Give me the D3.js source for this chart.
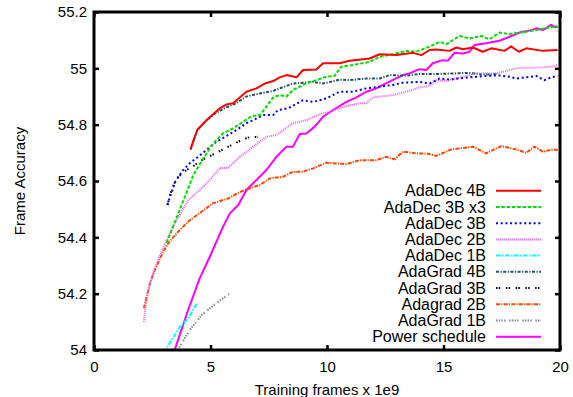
<!DOCTYPE html>
<html>
<head>
<meta charset="utf-8">
<script src="https://cdn.jsdelivr.net/npm/d3@7"></script>
<style>
  html, body { margin: 0; padding: 0; background: #fff; }
  svg { display: block; font-family: "Liberation Sans", Arial, sans-serif; }
</style>
</head>
<body>
<div id="app"></div>
<script>
const WIDTH = 573;
const HEIGHT = 397;

// x: training frames (x 1e9), y: frame accuracy
const adaDec4B = [[4.14,54.712],[4.43,54.781],[4.83,54.816],[5.4,54.858],[5.69,54.872],[5.97,54.876],[6.54,54.917],[6.97,54.929],[7.33,54.946],[7.69,54.955],[7.97,54.968],[8.26,54.976],[8.69,54.968],[8.97,54.994],[9.54,54.996],[9.83,55.018],[10.54,55.018],[10.97,55.027],[11.83,55.035],[12.26,55.05],[12.97,55.047],[13.69,55.055],[14.05,55.047],[14.4,55.065],[14.69,55.067],[15.26,55.062],[15.55,55.074],[15.83,55.068],[16.26,55.074],[16.69,55.059],[17.05,55.071],[17.62,55.062],[17.9,55.078],[18.23,55.059],[18.55,55.071],[19.26,55.062],[19.9,55.065]];
const adaDec3Bx3 = [[3.12,54.38],[3.19,54.396],[3.5,54.46],[3.9,54.544],[4.26,54.621],[4.69,54.68],[5.11,54.733],[5.54,54.769],[5.97,54.787],[6.4,54.81],[6.76,54.83],[7.12,54.834],[7.4,54.864],[7.69,54.897],[7.97,54.905],[8.26,54.9],[8.54,54.923],[9.12,54.947],[9.54,54.958],[9.97,54.97],[10.33,54.973],[10.61,55.006],[11.11,55.012],[11.83,55.023],[12.26,55.041],[12.83,55.05],[13.4,55.062],[13.83,55.059],[14.4,55.077],[14.83,55.094],[15.12,55.086],[15.69,55.115],[16.12,55.106],[16.62,55.115],[16.97,55.103],[17.4,55.127],[17.83,55.122],[18.55,55.13],[19.12,55.138],[19.83,55.15],[19.9,55.145]];
const adaDec3B = [[3.15,54.515],[3.26,54.544],[3.5,54.6],[3.83,54.639],[4.11,54.663],[4.47,54.686],[4.83,54.71],[5.26,54.74],[5.69,54.76],[6.11,54.781],[6.54,54.805],[6.9,54.819],[7.26,54.834],[7.69,54.834],[7.9,54.852],[8.33,54.858],[8.97,54.887],[9.4,54.881],[9.97,54.893],[10.54,54.917],[11.11,54.917],[11.69,54.929],[12.26,54.935],[12.83,54.941],[13.26,54.949],[13.97,54.952],[14.4,54.946],[14.83,54.964],[15.26,54.96],[16.12,54.968],[16.83,54.973],[17.4,54.975],[17.83,54.97],[18.12,54.964],[18.55,54.968],[18.98,54.973],[19.33,54.958],[19.62,54.968],[19.9,54.973]];
const adaDec2B = [[2.14,54.1],[2.23,54.166],[2.4,54.237],[2.61,54.29],[2.83,54.337],[3.12,54.39],[3.54,54.461],[4.04,54.532],[4.54,54.568],[4.83,54.592],[5.4,54.645],[5.76,54.647],[6.26,54.686],[6.83,54.722],[7.4,54.757],[7.83,54.763],[8.33,54.793],[8.54,54.805],[9.12,54.816],[9.69,54.837],[10.12,54.846],[10.83,54.866],[11.4,54.876],[11.69,54.876],[11.97,54.897],[12.83,54.905],[13.4,54.917],[13.97,54.932],[14.4,54.937],[14.69,54.958],[15.12,54.956],[15.83,54.97],[16.4,54.982],[17.26,54.982],[17.83,54.994],[18.26,55.002],[19.12,55.003],[19.69,55.006],[19.9,55.012]];
const adaDec1B = [[3.05,53.99],[3.11,54.006],[3.4,54.045],[3.69,54.083],[4.04,54.112],[4.2,54.135],[4.4,54.163]];
const adaGrad4B = [[4.15,54.712],[4.43,54.781],[4.83,54.816],[5.2,54.84],[5.69,54.862],[6.1,54.876],[6.54,54.9],[7.12,54.911],[7.69,54.92],[7.97,54.929],[8.54,54.946],[9.4,54.952],[9.83,54.946],[10.54,54.96],[10.97,54.958],[11.69,54.964],[12.26,54.964],[12.69,54.976],[13.4,54.974],[13.97,54.98],[14.69,54.98],[15.5,54.982],[16.1,54.984],[16.7,54.978],[17.3,54.98]];
const adaGrad3B = [[3.15,54.515],[3.33,54.568],[3.54,54.609],[3.97,54.639],[4.26,54.653],[4.69,54.677],[5.11,54.694],[5.54,54.712],[5.9,54.728],[6.26,54.742],[6.61,54.754],[7.04,54.757]];
const adaGrad2B = [[2.14,54.148],[2.26,54.189],[2.4,54.237],[2.61,54.284],[2.97,54.349],[3.19,54.379],[3.54,54.414],[4.11,54.461],[4.62,54.491],[5.11,54.521],[5.76,54.538],[6.11,54.554],[6.47,54.568],[7.12,54.586],[7.54,54.609],[8.11,54.615],[8.54,54.633],[8.97,54.633],[9.4,54.645],[9.97,54.665],[10.83,54.66],[11.4,54.674],[12.12,54.674],[12.54,54.686],[12.9,54.677],[13.26,54.704],[13.83,54.698],[14.26,54.698],[14.69,54.689],[15.33,54.712],[16.26,54.722],[16.83,54.698],[17.48,54.724],[18.12,54.712],[18.55,54.7],[18.9,54.722],[19.26,54.704],[19.69,54.712],[19.95,54.71]];
const adaGrad1B = [[3.6,53.99],[3.66,54.01],[4.11,54.071],[4.62,54.124],[4.97,54.148],[5.33,54.171],[5.8,54.199]];
const powerSchedule = [[3.4,53.98],[3.47,54.002],[4.04,54.142],[4.54,54.255],[4.97,54.331],[5.54,54.438],[5.83,54.485],[6.19,54.515],[6.54,54.568],[6.83,54.592],[7.4,54.639],[7.83,54.686],[8.26,54.722],[8.54,54.722],[8.83,54.767],[9.12,54.769],[9.47,54.793],[9.83,54.828],[10.26,54.852],[10.83,54.881],[11.26,54.897],[11.69,54.917],[12.12,54.929],[12.4,54.941],[12.97,54.964],[13.26,54.976],[13.54,54.982],[13.97,54.997],[14.26,54.994],[14.54,55.018],[14.97,55.029],[15.19,55.027],[15.47,55.055],[15.83,55.053],[16.12,55.059],[16.33,55.083],[16.83,55.089],[17.4,55.098],[17.83,55.112],[18.26,55.127],[18.69,55.134],[18.98,55.142],[19.26,55.136],[19.62,55.154],[19.76,55.148],[19.9,55.146]];

const seriesNames = ["AdaDec 4B", "AdaDec 3B x3", "AdaDec 3B", "AdaDec 2B", "AdaDec 1B",
  "AdaGrad 4B", "AdaGrad 3B", "Adagrad 2B", "AdaGrad 1B", "Power schedule"];
const seriesData = [adaDec4B, adaDec3Bx3, adaDec3B, adaDec2B, adaDec1B,
  adaGrad4B, adaGrad3B, adaGrad2B, adaGrad1B, powerSchedule];

const xTicks = [0, 5, 10, 15, 20];
const yTicks = [54, 54.2, 54.4, 54.6, 54.8, 55, 55.2];

// line styles, one per series
const styles = [
  { color: "#ff0000", dash: null, width: 2 },
  { color: "#00e000", dash: "3.5,1.8", width: 2 },
  { color: "#0000ff", dash: "2,2.7", width: 2 },
  { color: "#f060f0", dash: "1,1", width: 2 },
  { color: "#00ffff", dash: "4.5,1.5,1.5,1.5", width: 2 },
  { color: "#1f4f6a", dash: "3,1.5,1.2,1.5", width: 2 },
  { color: "#000000", dash: "1.5,1.3,1.5,5.5", width: 2 },
  { color: "#ff4500", dash: "4,1.2,1.2,1.2", width: 2 },
  { color: "#888888", dash: "1.5,1.2,1.5,1.2,1.5,1.2,1.5,3.5", width: 2 },
  { color: "#ff00ff", dash: null, width: 2 },
];

const margin = { left: 94, right: 13, top: 12, bottom: 47 };
const x = d3.scaleLinear().domain([0, 20]).range([margin.left, WIDTH - margin.right]);
const y = d3.scaleLinear().domain([54, 55.2]).range([HEIGHT - margin.bottom, margin.top]);

const svg = d3.select("#app").append("svg")
  .attr("width", WIDTH)
  .attr("height", HEIGHT);

svg.append("clipPath").attr("id", "plot-clip")
  .append("rect")
  .attr("x", x(0)).attr("y", y(55.2))
  .attr("width", x(20) - x(0)).attr("height", y(54) - y(55.2));

const line = d3.line().x((d) => x(d[0])).y((d) => y(d[1]));

const lines = svg.append("g").attr("clip-path", "url(#plot-clip)");
// draw in reverse so AdaDec 4B ends on top
seriesData.map((d, i) => ({ d, i })).reverse().forEach(({ d, i }) => {
  lines.append("path")
    .datum(d)
    .attr("fill", "none")
    .attr("stroke", styles[i].color)
    .attr("stroke-width", styles[i].width)
    .attr("stroke-dasharray", styles[i].dash)
    .attr("stroke-linejoin", "round")
    .attr("d", line);
});

// axes: inward ticks, mirrored on top and right
const TICK = 5;
function styleAxis(g) {
  g.select(".domain").remove();
  g.selectAll(".tick line").attr("stroke", "#000").attr("stroke-width", 2.5);
  g.selectAll(".tick text").attr("fill", "#000").attr("font-size", 15)
    .attr("font-family", "Liberation Sans, Arial, sans-serif");
}

svg.append("g")
  .attr("transform", `translate(0,${y(54)})`)
  .call(d3.axisBottom(x).tickValues(xTicks).tickSize(-TICK).tickPadding(11).tickFormat(d3.format("d")))
  .call(styleAxis);

svg.append("g")
  .attr("transform", `translate(0,${y(55.2)})`)
  .call(d3.axisTop(x).tickValues(xTicks).tickSize(-TICK).tickFormat(""))
  .call(styleAxis);

svg.append("g")
  .attr("transform", `translate(${x(0)},0)`)
  .call(d3.axisLeft(y).tickValues(yTicks).tickSize(-TICK).tickPadding(7).tickFormat((d) => d3.format("~g")(d)))
  .call(styleAxis);

svg.append("g")
  .attr("transform", `translate(${x(20)},0)`)
  .call(d3.axisRight(y).tickValues(yTicks).tickSize(-TICK).tickFormat(""))
  .call(styleAxis);

// frame
svg.append("rect")
  .attr("x", x(0)).attr("y", y(55.2))
  .attr("width", x(20) - x(0)).attr("height", y(54) - y(55.2))
  .attr("fill", "none")
  .attr("stroke", "#000")
  .attr("stroke-width", 3);

// axis titles
svg.append("text")
  .attr("transform", `translate(25,${(y(54) + y(55.2)) / 2}) rotate(-90)`)
  .attr("text-anchor", "middle")
  .attr("font-size", 15)
  .text("Frame Accuracy");

svg.append("text")
  .attr("x", (x(0) + x(20)) / 2)
  .attr("y", 395)
  .attr("text-anchor", "middle")
  .attr("font-size", 15)
  .text("Training frames x 1e9");

// legend
const LEGEND_TEXT_X = 486;
const LEGEND_Y0 = 190.7;
const LEGEND_STEP = 16.23;
const legend = svg.append("g")
  .selectAll("g")
  .data(seriesNames)
  .join("g")
  .attr("transform", (d, i) => `translate(0,${LEGEND_Y0 + i * LEGEND_STEP})`);

legend.append("text")
  .attr("x", LEGEND_TEXT_X)
  .attr("dy", "0.35em")
  .attr("text-anchor", "end")
  .attr("font-size", 16)
  .text((d) => d);

legend.append("line")
  .attr("x1", 496).attr("x2", 541)
  .attr("stroke", (d, i) => styles[i].color)
  .attr("stroke-width", (d, i) => styles[i].width)
  .attr("stroke-dasharray", (d, i) => styles[i].dash);
</script>
</body>
</html>
